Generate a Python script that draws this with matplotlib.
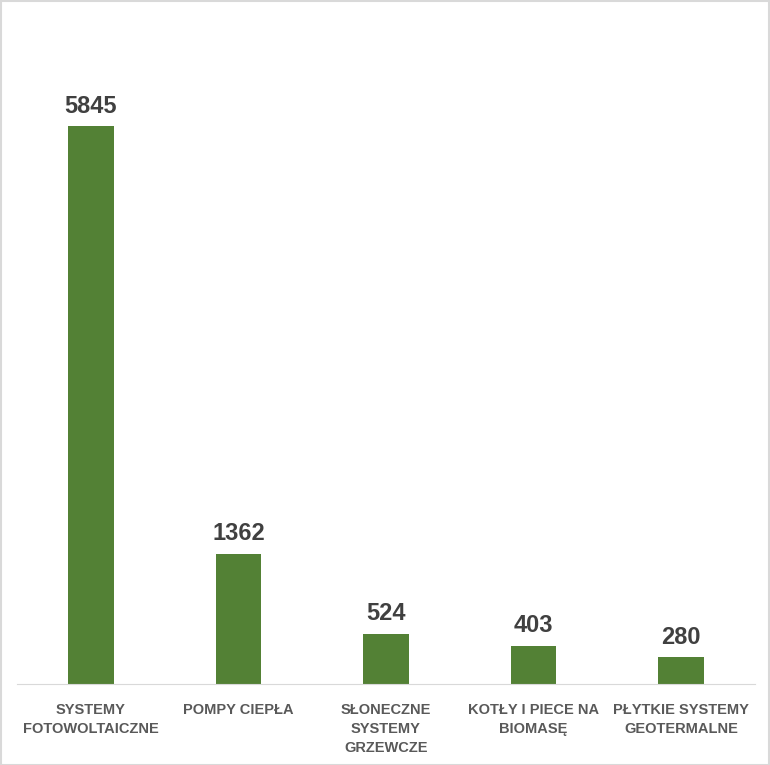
import matplotlib.pyplot as plt
from matplotlib import font_manager

categories = ['SYSTEMY\nFOTOWOLTAICZNE', 'POMPY CIEPŁA', 'SŁONECZNE\nSYSTEMY\nGRZEWCZE',
              'KOTŁY I PIECE NA\nBIOMASĘ', 'PŁYTKIE SYSTEMY\nGEOTERMALNE']
values = [5845, 1362, 524, 403, 280]

names = {f.name for f in font_manager.fontManager.ttflist}
fam = 'Liberation Sans Narrow' if 'Liberation Sans Narrow' in names else 'Liberation Sans'
plt.rcParams['font.family'] = [fam, 'DejaVu Sans']

W, H = 770, 765
fig = plt.figure(figsize=(W / 100, H / 100), dpi=100)
ax = fig.add_axes([17 / W, (H - 684) / H, (755 - 17) / W, (684 - 16) / H])

x = range(len(values))
bars = ax.bar(x, values, width=0.31, color='#538135', zorder=2)
for b, v in zip(bars, values):
    ax.text(b.get_x() + b.get_width() / 2, v + 90, str(v), ha='center', va='bottom',
            fontsize=17, fontweight='bold', color='#404040')

ax.set_xlim(-0.5, len(values) - 0.5)
ax.set_ylim(0, 7000)
ax.set_yticks([])
ax.set_xticks(list(x))
ax.set_xticklabels(categories, fontsize=10.5, fontweight='bold', color='#595959', linespacing=1.45)
ax.tick_params(axis='x', length=0, pad=14)
for s in ['top', 'right', 'left']:
    ax.spines[s].set_visible(False)
ax.spines['bottom'].set_color('#d9d9d9')

fig.patches.append(plt.Rectangle((0.5 / W, 0.5 / H), 1 - 1.5 / W, 1 - 1.5 / H, transform=fig.transFigure,
                                 fill=False, edgecolor='#d9d9d9', linewidth=1.5))
fig.savefig('out.png', dpi=100)
